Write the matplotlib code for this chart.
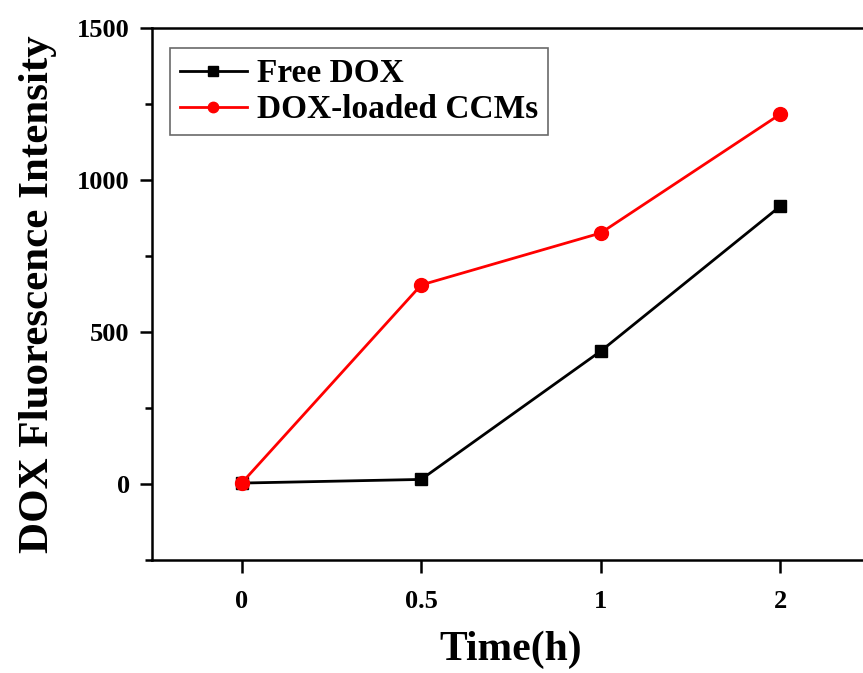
import matplotlib.pyplot as plt
from matplotlib.ticker import MultipleLocator

time_labels = ["0", "0.5", "1", "2"]
free_dox = [3, 15, 437, 914]
dox_ccms = [3, 655, 826, 1217]

plt.rcParams["font.family"] = "Liberation Serif"
plt.rcParams["font.weight"] = "bold"

fig = plt.figure(figsize=(8.63, 6.73), dpi=100)
ax = fig.add_axes([0.176, 0.168, 0.832, 0.790])

x = list(range(len(time_labels)))
ax.plot(x, free_dox, color="black", lw=2, marker="s", ms=9, label="Free DOX")
ax.plot(x, dox_ccms, color="red", lw=2, marker="o", ms=10, label="DOX-loaded CCMs")

ax.set_xlim(-0.5, 3.5)
ax.set_ylim(-250, 1500)
ax.set_xticks(x)
ax.set_xticklabels(time_labels)
ax.yaxis.set_major_locator(MultipleLocator(500))
ax.yaxis.set_minor_locator(MultipleLocator(250))

for s in ax.spines.values():
    s.set_linewidth(1.8)
ax.tick_params(axis="both", which="major", direction="out", length=9, width=1.8,
               labelsize=19)
ax.tick_params(axis="y", which="minor", direction="out", length=5, width=1.8)
ax.tick_params(axis="y", pad=7)
ax.tick_params(axis="x", pad=13)
for lbl in ax.get_xticklabels() + ax.get_yticklabels():
    lbl.set_fontweight("bold")

ax.set_xlabel("Time(h)", fontsize=30, fontweight="bold", labelpad=12)
ax.set_ylabel("DOX Fluorescence Intensity", fontsize=31, fontweight="bold", labelpad=14)

leg = ax.legend(loc="upper left", bbox_to_anchor=(0.025, 0.962), borderaxespad=0,
                fontsize=24, frameon=True, fancybox=False, edgecolor="#444444",
                handlelength=2.0, handletextpad=0.3, borderpad=0.3,
                labelspacing=0.15, markerscale=0.75)
leg.get_frame().set_linewidth(1.2)
for t in leg.get_texts():
    t.set_fontweight("bold")

plt.savefig("out.png", dpi=100)
